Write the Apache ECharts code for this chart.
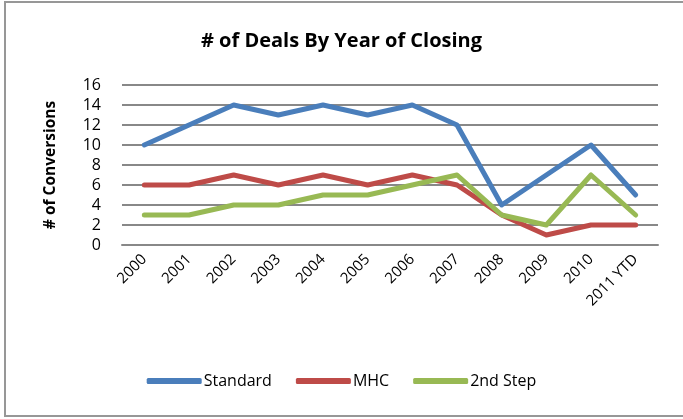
<!DOCTYPE html>
<html><head><meta charset="utf-8">
<script src="https://cdn.jsdelivr.net/npm/echarts@6/dist/echarts.min.js"></script>
<style>html,body{margin:0;padding:0;background:#fff}#c{width:683px;height:419px}</style>
</head><body><div id="c"></div>
<script>
const categories = ['2000','2001','2002','2003','2004','2005','2006','2007','2008','2009','2010','2011 YTD'];
const standard = [10,12,14,13,14,13,14,12,4,7,10,5];
const mhc = [6,6,7,6,7,6,7,6,3,1,2,2];
const secondStep = [3,3,4,4,5,5,6,7,3,2,7,3];
const yTicks = [0,2,4,6,8,10,12,14,16];

const font = '"Open Sans", sans-serif';
const chart = echarts.init(document.getElementById('c'));
const mk = (name, data, color) => ({
  name, type:'line', data, symbol:'none', smooth:false,
  lineStyle:{width:5, color, cap:'round', join:'round'}, itemStyle:{color}
});
chart.setOption({
  animation:false,
  graphic:[{type:'rect', shape:{x:5,y:2,width:690,height:414}, style:{fill:'none', stroke:'#979797', lineWidth:2}, silent:true}],
  title:{text:'# of Deals By Year of Closing', left:'center', top:26,
    textStyle:{fontFamily:font, fontWeight:'bold', fontSize:20, color:'#000'}},
  grid:{left:122, right:25, top:85, bottom:174},
  legend:{bottom:25, left:'center', itemWidth:55, itemHeight:6, itemGap:24,
    icon:'roundRect',
    textStyle:{fontFamily:font, fontSize:16, color:'#000', padding:[0,0,0,-3]},
    data:['Standard','MHC','2nd Step']},
  xAxis:{type:'category', data:categories, boundaryGap:true,
    axisLine:{lineStyle:{color:'#888', width:2}}, axisTick:{show:false},
    axisLabel:{rotate:45, interval:0, fontFamily:font, fontSize:15, color:'#000', margin:12}},
  yAxis:{type:'value', min:yTicks[0], max:yTicks[yTicks.length-1], interval:2,
    name:'# of Conversions', nameLocation:'middle', nameGap:63, nameRotate:90,
    nameTextStyle:{fontFamily:font, fontWeight:'bold', fontSize:15.5, color:'#000'},
    axisLine:{show:false}, axisTick:{show:false},
    axisLabel:{fontFamily:font, fontSize:16, color:'#000', margin:21},
    splitLine:{lineStyle:{color:'#888', width:2}}},
  series:[mk('Standard', standard, '#4A7EBB'), mk('MHC', mhc, '#BE4B48'), mk('2nd Step', secondStep, '#98B954')]
});
</script></body></html>
